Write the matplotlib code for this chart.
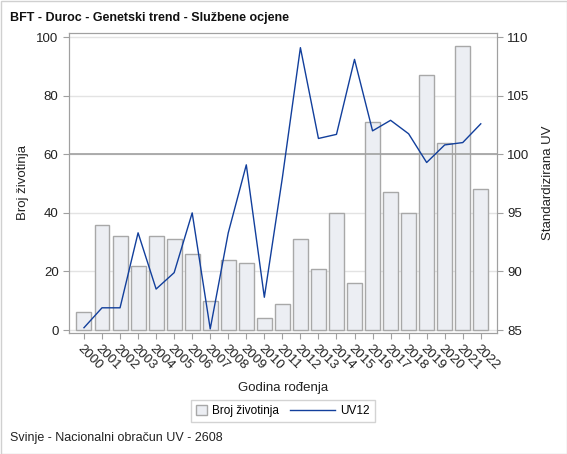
import matplotlib
matplotlib.use("Agg")
import matplotlib.pyplot as plt
from matplotlib.patches import Rectangle
from matplotlib.lines import Line2D
from matplotlib.legend_handler import HandlerLine2D

plt.rcParams['font.family'] = ['Liberation Sans', 'DejaVu Sans']

# data
years = [str(y) for y in range(2000, 2023)]
broj = [6, 36, 32, 22, 32, 31, 26, 10, 24, 23, 4, 9, 31, 21, 40, 16, 71, 47, 40, 87, 64, 97, 48]
uv12 = [85.2, 86.9, 86.9, 93.3, 88.5, 89.9, 95.0, 85.1, 93.3, 99.1, 87.8, 98.0, 109.1,
        101.35, 101.7, 108.1, 102.0, 102.9, 101.75, 99.3, 100.8, 101.0, 102.6]

grey = '#a0a0a0'
txt = '#222222'

fig = plt.figure(figsize=(5.67, 4.54), dpi=100)
ax = fig.add_axes([69/567, 1 - 333/454, 428/567, 300/454])
ax2 = ax.twinx()

x = list(range(len(years)))
ax.bar(x, broj, width=0.83, color='#eceef3', edgecolor='#a8a8a8', linewidth=1.0, zorder=2)
ax.set_ylim(-1, 101.4)
ax.set_xlim(-0.83, 22.9)
ax.set_yticks([0, 20, 40, 60, 80, 100])
ax.set_xticks(x)
ax.set_xticklabels(years, rotation=-45, ha='left', va='top', rotation_mode='anchor')
ax.grid(axis='y', color='#e3e3e3', linewidth=1, zorder=0)
ax.set_axisbelow(True)

# right axis, same pixel scale: 85 at 0, 110 at 100
ax2.set_ylim(85 + (-1) * 0.25, 85 + 101.4 * 0.25)
ax2.set_yticks([85, 90, 95, 100, 105, 110])
ax2.axhline(100, color='#a0a0a0', linewidth=1.2, zorder=1)
ax2.plot(x, uv12, color='#123f9c', linewidth=1.0, zorder=3)

for a in (ax, ax2):
    for s in a.spines.values():
        s.set_color(grey)
    a.tick_params(colors=grey, labelcolor=txt, labelsize=9.5, length=4)
ax.tick_params(axis='x', pad=3)

ax.set_ylabel('Broj životinja', fontsize=9.5, color=txt, labelpad=5)
ax2.set_ylabel('Standardizirana UV', fontsize=9.5, color=txt, labelpad=9)
ax.set_xlabel('Godina rođenja', fontsize=9.5, color=txt, labelpad=7)

fig.text(10/567, 1 - 18/454, 'BFT - Duroc - Genetski trend - Službene ocjene',
         fontsize=9, fontweight='bold', color='#111111', va='center')
fig.text(10/567, 1 - 438/454, 'Svinje - Nacionalni obračun UV - 2608',
         fontsize=9, color=txt, va='center')


class LongLine(HandlerLine2D):
    # legend line reaching further left than the square handle box
    def create_artists(self, legend, orig_handle, xdescent, ydescent, width, height, fontsize, trans):
        y = height / 2 - ydescent
        ln = Line2D([-xdescent - 25, width - xdescent], [y, y], color=orig_handle.get_color(),
                    linewidth=orig_handle.get_linewidth(), transform=trans)
        return [ln]


handles = [Rectangle((0, 0), 1, 1, facecolor='#eceef3', edgecolor='#a8a8a8'),
           Line2D([0], [0], color='#123f9c', linewidth=1.0)]
leg = fig.legend(handles, ['Broj životinja', 'UV12'], loc='center',
                 bbox_to_anchor=(283/567, 1 - 411/454), ncol=2, fontsize=8.5,
                 frameon=True, fancybox=False, handlelength=0.9, handleheight=0.9,
                 columnspacing=3.85, borderpad=0.4, handletextpad=0.45,
                 handler_map={Line2D: LongLine()})
leg.get_frame().set_edgecolor('#c8c8c8')
leg.get_frame().set_linewidth(1)

fig.patches.append(Rectangle((0.5/567, 0.5/454), 1 - 1/567, 1 - 1/454, transform=fig.transFigure,
                             fill=False, edgecolor='#d0d0d0', linewidth=1))

fig.savefig('out.png', dpi=100)
